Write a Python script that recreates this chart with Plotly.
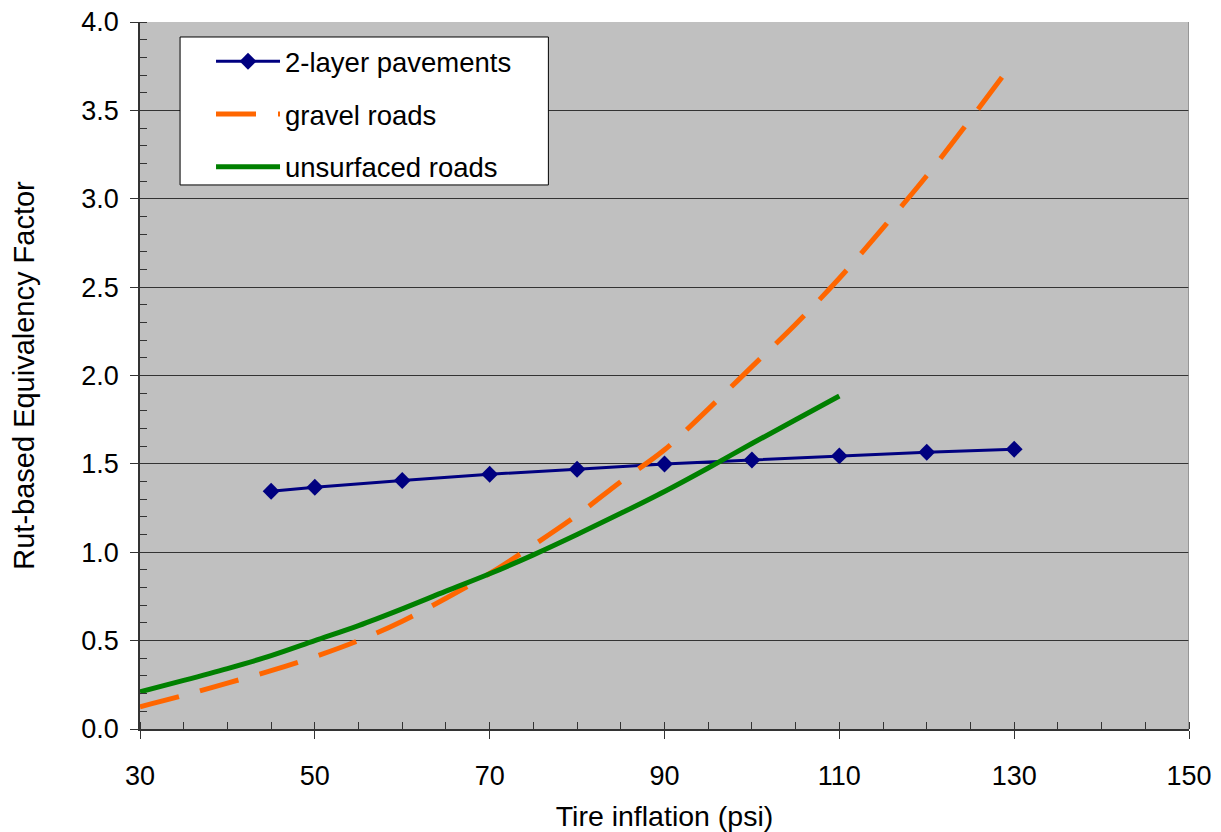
import plotly.graph_objects as go

# 2-layer pavements
pave_x = [45, 50, 60, 70, 80, 90, 100, 110, 120, 130]
pave_y = [1.345, 1.368, 1.406, 1.441, 1.470, 1.499, 1.522, 1.545, 1.566, 1.583]

# gravel roads
grav_x = [30, 35, 40, 45, 50, 55, 60, 65, 70, 75, 80, 85, 90, 95, 100, 105, 110, 115, 120, 125, 130]
grav_y = [0.126, 0.19, 0.26, 0.33, 0.409, 0.50, 0.61, 0.74, 0.88, 1.04, 1.21, 1.40, 1.58, 1.81, 2.05, 2.29, 2.55, 2.835, 3.13, 3.45, 3.78]

# unsurfaced roads
unsf_x = [30, 35, 40, 45, 50, 55, 60, 65, 70, 75, 80, 85, 90, 95, 100, 105, 110]
unsf_y = [0.211, 0.275, 0.342, 0.415, 0.50, 0.585, 0.68, 0.78, 0.878, 0.985, 1.10, 1.22, 1.344, 1.477, 1.615, 1.75, 1.884]

x_ticks = [30, 50, 70, 90, 110, 130, 150]

fig = go.Figure()
fig.add_trace(go.Scatter(x=pave_x, y=pave_y, mode="lines+markers", name="2-layer pavements",
                         legendgroup="a",
                         line=dict(color="#000080", width=3),
                         marker=dict(symbol="diamond", size=13, color="#000080")))
fig.add_trace(go.Scatter(x=grav_x, y=grav_y, mode="lines", name="gravel roads",
                         legendgroup="b",
                         line=dict(color="#FF6600", width=5, dash="40px,22px", shape="spline")))
fig.add_trace(go.Scatter(x=unsf_x, y=unsf_y, mode="lines", name="unsurfaced roads",
                         legendgroup="c",
                         line=dict(color="#008000", width=5, shape="spline")))

fam = "Liberation Sans, Arial, sans-serif"
tickfont = dict(family=fam, size=27, color="black")
xtitlefont = dict(family=fam, size=28.5, color="black")
ytitlefont = dict(family=fam, size=29, color="black")

fig.update_layout(
    width=1213, height=824,
    margin=dict(l=132, r=32, t=14, b=103),
    paper_bgcolor="white", plot_bgcolor="#C0C0C0",
    font=tickfont,
    showlegend=True,
    legend=dict(x=0.0677, y=0.979, xanchor="left", yanchor="top",
                bgcolor="rgba(0,0,0,0)", borderwidth=0,
                font=dict(family=fam, size=27.5, color="black"),
                tracegroupgap=14, itemwidth=64),
    xaxis=dict(range=[30, 150], tickvals=x_ticks, ticks="outside", ticklen=8,
               tickcolor="#333", showgrid=False, zeroline=False, automargin=False,
               showline=True, linecolor="#333", linewidth=1.5, mirror=False,
               minor=dict(dtick=5, tick0=30, ticks="inside", ticklen=7, tickcolor="#333", showgrid=False),
               title=dict(text="Tire inflation (psi)", standoff=22, font=xtitlefont),
               tickfont=tickfont, ticklabelstandoff=14, ticklabeloverflow="allow"),
    yaxis=dict(range=[0, 4.0], dtick=0.5, tick0=0, tickformat=".1f", ticks="outside", ticklen=8,
               tickcolor="#333", showgrid=True, gridcolor="#333", gridwidth=1, zeroline=False,
               showline=True, linecolor="#333", linewidth=1.5, automargin=False,
               minor=dict(dtick=0.1, ticks="inside", ticklen=7, tickcolor="#333", showgrid=False),
               title=dict(text="Rut-based Equivalency Factor", standoff=40, font=ytitlefont),
               tickfont=tickfont, ticklabelstandoff=6, ticklabeloverflow="allow"),
)
fig.add_shape(type="line", xref="x", yref="paper", x0=150, x1=150, y0=0, y1=1,
              line=dict(color="#888", width=1.5))
# legend frame
fig.add_shape(type="rect", xref="paper", yref="paper", x0=0.0382, x1=0.3893, y0=0.7695, y1=0.9788,
              fillcolor="white", line=dict(color="black", width=1), layer="above")

fig.write_html("out.html")
